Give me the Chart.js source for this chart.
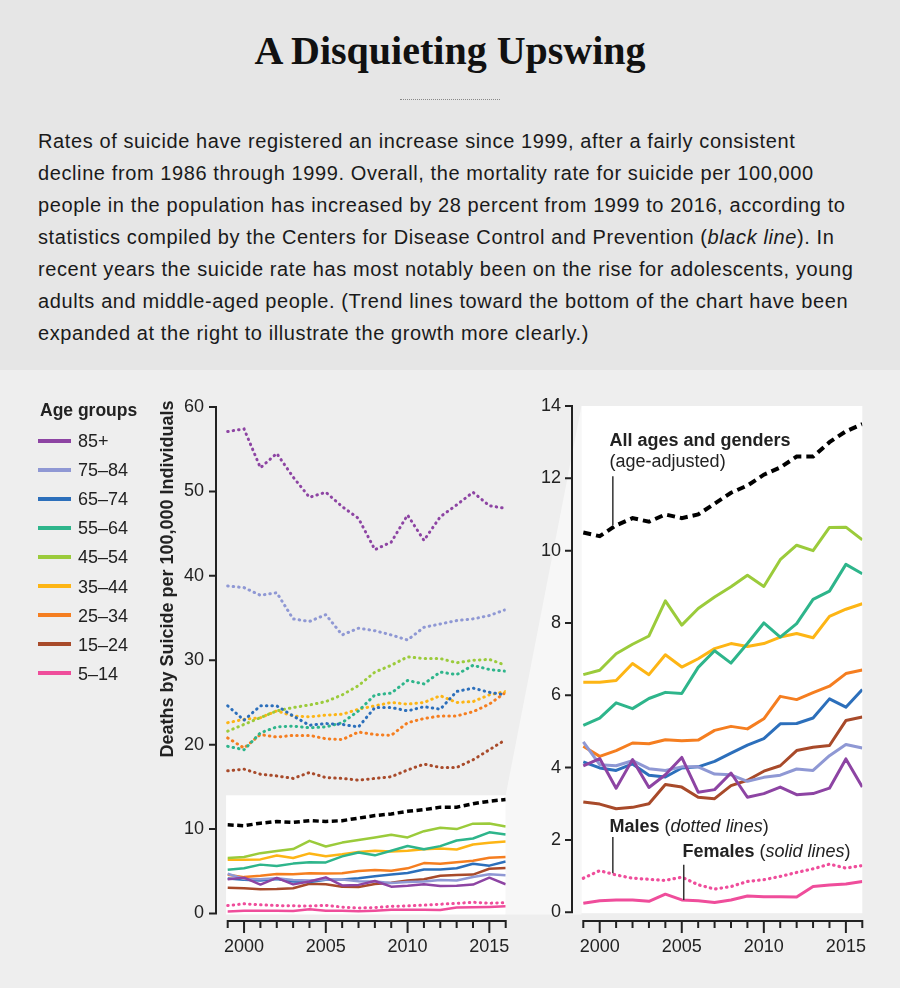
<!DOCTYPE html>
<html><head><meta charset="utf-8">
<script src="https://cdn.jsdelivr.net/npm/chart.js@4.4.0/dist/chart.umd.min.js"></script>
<style>
html,body{margin:0;padding:0;}
body{width:900px;height:988px;position:relative;overflow:hidden;font-family:'Liberation Sans',Arial,sans-serif;color:#222;background:#eeeeee;}
#top{position:absolute;left:0;top:0;width:900px;height:370px;background:#e6e6e6;}
#title{position:absolute;left:0;top:31px;width:900px;text-align:center;font:bold 40px/40px 'Liberation Serif',serif;color:#111;}
#rule{position:absolute;left:400px;top:99px;width:100px;height:0;border-top:1px dotted #888;}
#para{position:absolute;left:38px;top:125.4px;font-size:20px;letter-spacing:0.6px;line-height:32px;white-space:nowrap;color:#1a1a1a;}
#bg{position:absolute;left:0;top:0;z-index:0;}
#cl{position:absolute;left:150px;top:380px;z-index:2;}
#cr{position:absolute;left:520px;top:380px;z-index:1;}
#ytitle{position:absolute;left:-33px;top:569px;width:400px;height:20px;line-height:20px;text-align:center;font-weight:bold;font-size:18px;color:#222;transform:rotate(-90deg);transform-origin:200px 10px;white-space:nowrap;z-index:3;}
.lg{position:absolute;z-index:3;white-space:nowrap;}
.lgt{left:40px;top:399.6px;font-weight:bold;font-size:17.5px;line-height:20px;}
.lgl{position:absolute;left:38px;width:33px;height:4px;z-index:3;}
.lgx{left:78px;font-size:18px;line-height:20px;}
</style></head>
<body>
<div id="top">
  <div id="title">A Disquieting Upswing</div>
  <div id="rule"></div>
  <div id="para">Rates of suicide have registered an increase since 1999, after a fairly consistent<br>decline from 1986 through 1999. Overall, the mortality rate for suicide per 100,000<br>people in the population has increased by 28 percent from 1999 to 2016, according to<br>statistics compiled by the Centers for Disease Control and Prevention (<i>black line</i>). In<br>recent years the suicide rate has most notably been on the rise for adolescents, young<br>adults and middle-aged people. (Trend lines toward the bottom of the chart have been<br>expanded at the right to illustrate the growth more clearly.)</div>
</div>
<canvas id="bg" width="900" height="988"></canvas>
<div class="lg lgt">Age groups</div>
<div id="legend"></div>
<div id="ytitle">Deaths by Suicide per 100,000 Individuals</div>
<canvas id="cl" width="390" height="600"></canvas>
<canvas id="cr" width="380" height="600"></canvas>
<script>
// ---------------- DATA ----------------
const years = [1999,2000,2001,2002,2003,2004,2005,2006,2007,2008,2009,2010,2011,2012,2013,2014,2015,2016];
const ageGroups = ['85+','75–84','65–74','55–64','45–54','35–44','25–34','15–24','5–14'];
const groupColors = ['#8d44a3','#8f98d4','#2c6fbb','#2eb58b','#9bcb3b','#fdb515','#f57e20','#a84a2a','#ef4d9b'];

const allAges = [10.5,10.4,10.7,10.9,10.8,11.0,10.9,11.0,11.3,11.6,11.8,12.1,12.3,12.6,12.6,13.0,13.3,13.5];

const male85 = [57.1,57.4,52.8,54.5,51.7,49.3,49.9,48.2,46.8,43.1,44.0,47.2,44.2,47.0,48.4,49.9,48.3,48.0];
const male75 = [38.8,38.6,37.7,38.0,34.9,34.6,35.4,33.0,33.8,33.5,33.0,32.4,33.9,34.3,34.7,34.9,35.3,36.0];
const male65 = [24.6,22.9,24.6,24.6,23.4,22.3,22.5,22.4,22.1,24.4,24.4,24.0,24.5,24.2,26.3,26.7,26.2,25.9];
const male55 = [19.8,19.4,21.4,22.1,22.2,22.0,22.1,22.6,24.0,25.9,26.1,27.6,27.2,28.6,28.3,29.4,28.9,28.7];
const male45 = [21.6,22.4,23.2,24.0,24.4,24.7,25.1,25.9,27.0,28.6,29.4,30.4,30.2,30.2,29.7,30.0,30.1,29.4];
const male35 = [22.6,23.0,23.2,24.0,23.4,23.3,23.5,23.6,24.2,24.6,25.0,24.8,25.0,25.8,25.0,25.1,25.9,26.3];
const male25 = [20.8,19.6,21.2,20.9,21.1,21.1,20.7,20.6,21.5,21.2,21.1,22.6,23.1,23.4,23.4,23.9,24.8,26.2];
const male15 = [16.9,17.1,16.5,16.3,16.0,16.7,16.1,16.0,15.8,16.0,16.2,17.0,17.7,17.3,17.3,18.2,19.4,20.6];
const male5  = [0.94,1.15,1.03,0.94,0.91,0.88,0.97,0.76,0.64,0.71,0.85,0.90,0.99,1.10,1.20,1.33,1.22,1.29];

const female85 = [4.05,4.25,3.43,4.22,3.45,3.80,4.28,3.32,3.39,3.85,3.18,3.28,3.46,3.25,3.28,3.43,4.24,3.46];
const female75 = [4.71,4.08,4.05,4.19,3.97,3.92,4.02,4.02,3.82,3.80,3.62,3.73,3.79,3.96,3.92,4.33,4.64,4.54];
const female65 = [4.16,3.99,3.92,4.10,3.79,3.74,3.99,4.02,4.17,4.40,4.62,4.80,5.21,5.22,5.37,5.90,5.67,6.16];
const female55 = [5.17,5.37,5.79,5.63,5.91,6.08,6.05,6.77,7.23,6.89,7.43,8.00,7.61,7.98,8.65,8.88,9.62,9.36];
const female45 = [6.57,6.69,7.15,7.41,7.64,8.61,7.94,8.40,8.72,9.00,9.32,9.01,9.75,10.15,10.00,10.64,10.65,10.30];
const female35 = [6.36,6.36,6.41,6.88,6.57,7.12,6.78,7.01,7.29,7.43,7.35,7.43,7.61,7.71,7.59,8.18,8.38,8.53];
const female25 = [4.59,4.31,4.47,4.68,4.66,4.77,4.74,4.76,5.03,5.14,5.07,5.35,5.97,5.88,6.07,6.25,6.60,6.70];
const female15 = [3.05,2.99,2.86,2.90,3.00,3.53,3.46,3.18,3.14,3.50,3.65,3.90,4.05,4.47,4.56,4.61,5.30,5.40];
const female5  = [0.25,0.32,0.34,0.34,0.30,0.50,0.34,0.32,0.27,0.34,0.45,0.43,0.43,0.42,0.71,0.75,0.78,0.85];

const maleRates = [male85,male75,male65,male55,male45,male35,male25,male15,male5];
const femaleRates = [female85,female75,female65,female55,female45,female35,female25,female15,female5];

const leftYTicks = [0,10,20,30,40,50,60];
const rightYTicks = [0,2,4,6,8,10,12,14];
const xLabelYears = [2000,2005,2010,2015];
const zoomMax = 14;

// ---------------- LEGEND ----------------
const lg = document.getElementById('legend');
ageGroups.forEach((g,i)=>{
  const cy = 440.7 + 29.08*i;
  const ln = document.createElement('div'); ln.className='lgl';
  ln.style.top = (cy-2)+'px'; ln.style.background = groupColors[i]; lg.appendChild(ln);
  const tx = document.createElement('div'); tx.className='lg lgx';
  tx.style.top = (cy-9.6)+'px'; tx.textContent = g; lg.appendChild(tx);
});

// ---------------- CHARTS ----------------
Chart.defaults.font.family = "'Liberation Sans', Arial, sans-serif";
Chart.defaults.color = '#222';
const pts = arr => years.map((x,i)=>({x, y: arr[i]}));

const axesPlugin = {
  id:'axesDraw',
  afterDraw(chart, args, opts){
    const {ctx, chartArea:ca, scales:{x,y}} = chart;
    ctx.save(); ctx.strokeStyle='#222'; ctx.lineWidth=2; ctx.lineCap='butt';
    ctx.beginPath();
    const yt = y.getPixelForValue(opts.yTicks[opts.yTicks.length-1]), yb = y.getPixelForValue(0);
    ctx.moveTo(ca.left, yt-1); ctx.lineTo(ca.left, yb+1);
    opts.yTicks.forEach(v=>{const p=y.getPixelForValue(v); ctx.moveTo(ca.left,p); ctx.lineTo(ca.left-7,p);});
    const xl = x.getPixelForValue(years[0]), xr = x.getPixelForValue(years[years.length-1]);
    ctx.moveTo(xl-1, ca.bottom); ctx.lineTo(xr+1, ca.bottom);
    years.forEach(v=>{const p=x.getPixelForValue(v); ctx.moveTo(p, ca.bottom); ctx.lineTo(p, ca.bottom + (xLabelYears.includes(v)?12:7));});
    ctx.stroke(); ctx.restore();
  }
};
const boxPlugin = {
  id:'whiteBox',
  beforeDatasetsDraw(chart, args, opts){
    const {ctx, scales:{x,y}} = chart;
    const l = x.getPixelForValue(opts.left), r = x.getPixelForValue(years[years.length-1]);
    const t = y.getPixelForValue(zoomMax), b = y.getPixelForValue(0);
    ctx.save(); ctx.fillStyle='#ffffff'; ctx.fillRect(l, t, r-l, b-t+1); ctx.restore();
  }
};
const annotPlugin = {
  id:'annot',
  afterDatasetsDraw(chart){
    const {ctx, scales:{x,y}} = chart;
    ctx.save();
    ctx.fillStyle='#222'; ctx.textBaseline='alphabetic'; ctx.textAlign='left';
    const F = "'Liberation Sans', Arial, sans-serif";
    const runs = (px, py, parts) => { let cx = px; parts.forEach(([t,f])=>{ctx.font=f+' 18px '+F; ctx.fillText(t,cx,py); cx += ctx.measureText(t).width;}); };
    runs(x.getPixelForValue(2000.6), y.getPixelForValue(12.89), [['All ages and genders','bold']]);
    runs(x.getPixelForValue(2000.6), y.getPixelForValue(12.30), [['(age-adjusted)','normal']]);
    runs(x.getPixelForValue(2000.6), y.getPixelForValue(2.23), [['Males','bold'],[' (','normal'],['dotted lines','italic'],[')','normal']]);
    runs(x.getPixelForValue(2005.04), y.getPixelForValue(1.53), [['Females','bold'],[' (','normal'],['solid lines','italic'],[')','normal']]);
    ctx.strokeStyle='#333'; ctx.lineWidth=1.5; ctx.beginPath();
    const a = x.getPixelForValue(2000.8), b = x.getPixelForValue(2005.12);
    ctx.moveTo(a, y.getPixelForValue(12.06)); ctx.lineTo(a, y.getPixelForValue(10.71));
    ctx.moveTo(a, y.getPixelForValue(2.08)); ctx.lineTo(a, y.getPixelForValue(1.08));
    ctx.moveTo(b, y.getPixelForValue(1.31)); ctx.lineTo(b, y.getPixelForValue(0.34));
    ctx.stroke(); ctx.restore();
  }
};

function scalesFor(xmin, ymin, ymax, yTicks, yWidth, yPad){
  return {
    x:{type:'linear', min:xmin, max:years[years.length-1],
       afterBuildTicks: s=>{ s.ticks = years.map(v=>({value:v})); },
       afterFit: s=>{ s.height = 59; },
       grid:{display:false, drawTicks:false}, border:{display:false},
       ticks:{autoSkip:false, maxRotation:0, minRotation:0, padding:15, font:{size:18}, color:'#222',
              callback: v => xLabelYears.includes(v) ? String(v) : ''}},
    y:{type:'linear', min:ymin, max:ymax,
       afterBuildTicks: s=>{ s.ticks = yTicks.map(v=>({value:v})); },
       afterFit: s=>{ s.width = yWidth; },
       grid:{display:false, drawTicks:false}, border:{display:false},
       ticks:{padding:yPad, font:{size:18}, color:'#222', callback: v => String(v)}}
  };
}
const dotted = (data,color,w)=>({data:pts(data), borderColor:color, borderWidth:w, borderDash:[0.5,5], borderCapStyle:'round', pointRadius:0, tension:0, fill:false});
const solid = (data,color,w)=>({data:pts(data), borderColor:color, borderWidth:w, pointRadius:0, tension:0, fill:false, borderJoinStyle:'round'});
const dashed = (w,d)=>({data:pts(allAges), borderColor:'#000', borderWidth:w, borderDash:d, pointRadius:0, tension:0, fill:false});

const common = {responsive:false, animation:false, events:[], plugins:{legend:{display:false}, tooltip:{enabled:false}}};

const leftDatasets = [
  ...maleRates.map((m,i)=>dotted(m, groupColors[i], 3)),
  dashed(3.5,[6,3.5]),
  ...femaleRates.map((f,i)=>solid(f, groupColors[i], 2.5))
];
const lc = new Chart(document.getElementById('cl'), {
  type:'line', data:{datasets:leftDatasets},
  options:{...common, layout:{padding:{left:0, top:27, right:34.3, bottom:0}},
    scales: scalesFor(1998.2845, -0.888, 60, leftYTicks, 66, 12),
    plugins:{...common.plugins, axesDraw:{yTicks:leftYTicks}, whiteBox:{left:1998.9}}},
  plugins:[boxPlugin, axesPlugin]
});

const rightDatasets = [
  dotted(male5, groupColors[8], 3.2),
  dashed(4,[8,5]),
  ...femaleRates.map((f,i)=>solid(f, groupColors[i], 3))
];
const rc = new Chart(document.getElementById('cr'), {
  type:'line', data:{datasets:rightDatasets},
  options:{...common, layout:{padding:{left:0, top:26, right:37.7, bottom:0}},
    scales: scalesFor(1998.3115, -0.243, 14, rightYTicks, 52, 11),
    plugins:{...common.plugins, axesDraw:{yTicks:rightYTicks}, whiteBox:{left:1998.89}}},
  plugins:[boxPlugin, axesPlugin, annotPlugin]
});

// ---------------- connector trapezoid ----------------
(function(){
  const c = document.getElementById('bg').getContext('2d');
  const lx = 150 + lc.scales.x.getPixelForValue(years[years.length-1]);
  const lt = 380 + lc.scales.y.getPixelForValue(zoomMax);
  const lb = 380 + lc.scales.y.getPixelForValue(0);
  const rx = 520 + rc.scales.x.getPixelForValue(1998.89);
  const rt = 380 + rc.scales.y.getPixelForValue(zoomMax);
  const rb = 380 + rc.scales.y.getPixelForValue(0);
  c.fillStyle = '#f7f7f7';
  c.beginPath(); c.moveTo(lx, lt); c.lineTo(rx, rt); c.lineTo(rx, Math.max(rb,lb)+1); c.lineTo(lx, Math.max(rb,lb)+1); c.closePath(); c.fill();
})();
</script>
</body></html>
